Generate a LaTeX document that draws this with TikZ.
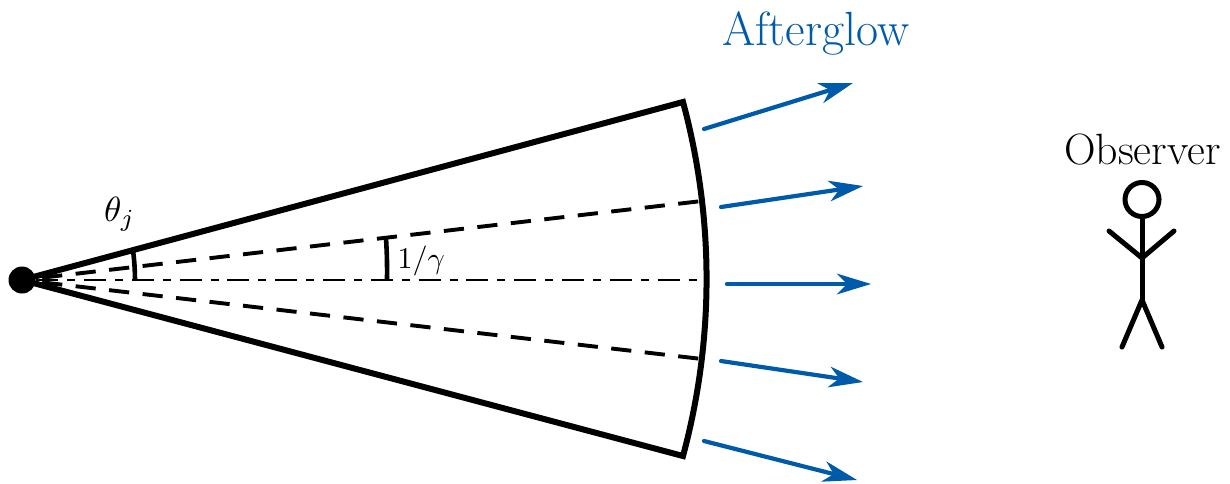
\documentclass[tikz,border=0pt]{standalone}
\usepackage{graphicx}
\usetikzlibrary{calc}
\definecolor{glow}{RGB}{0,90,170}
\tikzset{
  wall/.style={line width=6pt,line join=miter,line cap=round},
  ray/.style={line width=3.9pt,dash pattern=on 20.2pt off 13.5pt,dash phase=13.4pt},
  axis/.style={line width=2.9pt,dash pattern=on 22pt off 9pt on 8pt off 8.8pt,dash phase=33.6pt},
  tick/.style={line width=4.6pt},
  glowarrow/.style={draw=glow,line width=4.2pt,line cap=round,shorten >=22pt},
  stick/.style={line width=5pt,line cap=round,line join=round},
  lab/.style={inner sep=0pt,anchor=base west},
}
\begin{document}
\begin{tikzpicture}[x=1pt,y=-1pt]
\useasboundingbox (0,0) rectangle (1230,483);
\coordinate (apex) at (22,280);
\coordinate (topend) at (683,102);
\coordinate (botend) at (683,456);
\coordinate (upray) at (702,201);
\coordinate (lowray) at (702,359);
\coordinate (axisend) at (697,280);
\node[circle,fill=black,inner sep=0pt,minimum size=27pt] (source) at (apex) {};
\draw[ray] (apex) -- (upray);
\draw[ray] (apex) -- (lowray);
\draw[axis] (apex) -- (axisend);
\draw[wall] (apex) -- (topend) .. controls (714.4,218.6) and (714.4,339.4) .. (botend) -- cycle;
\coordinate (thA) at (133,250);
\coordinate (thB) at (135,280);
\coordinate (gaA) at (386,238);
\coordinate (gaB) at (387,280);
\draw[tick] (thA) to[bend left=3] (thB);
\draw[tick] (gaA) to[bend left=2] (gaB);
\node[lab] (thetaLabel) at (104,221) {\scalebox{3.5}{$\theta_j$}};
\node[lab] (gammaLabel) at (397.5,268.5) {\scalebox{3}{$1/\gamma$}};
\node[lab,text=glow] (afterLabel) at (722,45) {\fontsize{48}{50}\selectfont Afterglow};
\node[lab] (obsLabel) at (1064,164) {\fontsize{43.8}{46}\selectfont Observer};
\coordinate (a1) at (704,129); \coordinate (b1) at (853,83);
\coordinate (a2) at (721,207); \coordinate (b2) at (863,186);
\coordinate (a3) at (727,284); \coordinate (b3) at (871,284);
\coordinate (a4) at (721,361); \coordinate (b4) at (863,382);
\coordinate (a5) at (704,441); \coordinate (b5) at (857,480);
\foreach \i in {1,...,5}{
  \draw[glowarrow] (a\i) -- (b\i);
  \fill[glow] let \p1=($(b\i)-(a\i)$), \n1={atan2(\y1,\x1)} in
    (b\i) -- ($(b\i)+(\n1+163:36pt)$) -- ($(b\i)+(\n1+180:24pt)$) -- ($(b\i)+(\n1-163:36pt)$) -- cycle;
}
\node[circle,draw=black,line width=5pt,inner sep=0pt,minimum size=34pt] (head) at (1142,199.5) {};
\coordinate (neck) at (1142,258);
\coordinate (hip) at (1142,300);
\coordinate (handL) at (1109,231); \coordinate (handR) at (1174,231);
\coordinate (footL) at (1122,347); \coordinate (footR) at (1162,347);
\draw[stick] (head.south) -- (hip);
\draw[stick] (handL) -- (neck) -- (handR);
\draw[stick] (footL) -- (hip) -- (footR);
\end{tikzpicture}
\end{document}
